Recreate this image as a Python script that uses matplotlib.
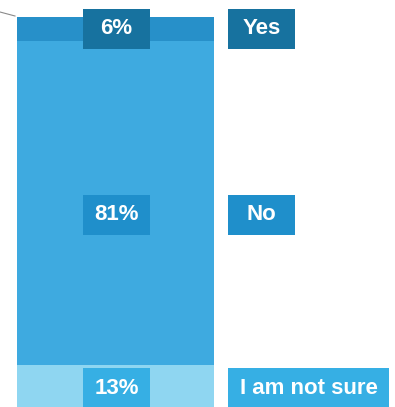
import matplotlib.pyplot as plt
from matplotlib.patches import Rectangle

# answers, top to bottom of the stacked bar
categorias = ['Yes', 'No', 'I am not sure']
porcentajes = [6, 81, 13]
etiquetas = ['6%', '81%', '13%']

colores_barra = ['#2790c9', '#3eaae0', '#8fd6f1']
colores_caja = ['#17729f', '#1f8fcb', '#36afe4']

plt.rcParams['font.family'] = ['Liberation Sans', 'DejaVu Sans']

fig = plt.figure(figsize=(3.95, 4.07), dpi=100)
ax = fig.add_axes([0, 0, 1, 1])
ax.set_xlim(0, 395)
ax.set_ylim(2.5, 104.25)
ax.axis('off')

# bar is stacked from the bottom up, so start with the last answer
bottom = 0
base = {}
for cat, val, col in reversed(list(zip(categorias, porcentajes, colores_barra))):
    ax.bar(115.5, val, width=197, bottom=bottom, color=col, linewidth=0)
    base[cat] = bottom
    bottom += val

# vertical offset for each label box (in percent units)
ajuste = {'Yes': 0, 'No': -3, 'I am not sure': 0.7}

for cat, val, et, col in zip(categorias, porcentajes, etiquetas, colores_caja):
    yc = base[cat] + val / 2 + ajuste[cat]
    h = 10
    ax.add_patch(Rectangle((83, yc - h / 2), 67, h, color=col, lw=0))
    ax.text(116.5, yc, et, color='white', fontsize=16, fontweight='bold',
            ha='center', va='center')
    ancho = 161 if len(cat) > 5 else 67
    ax.add_patch(Rectangle((228, yc - h / 2), ancho, h, color=col, lw=0))
    ax.text(228 + ancho / 2, yc, cat, color='white', fontsize=16,
            fontweight='bold', ha='center', va='center')

# leader line coming in from the left
ax.plot([0, 15], [101.25, 100.25], color='#8a8a8a', lw=0.8)

fig.savefig('out.png', dpi=100)
